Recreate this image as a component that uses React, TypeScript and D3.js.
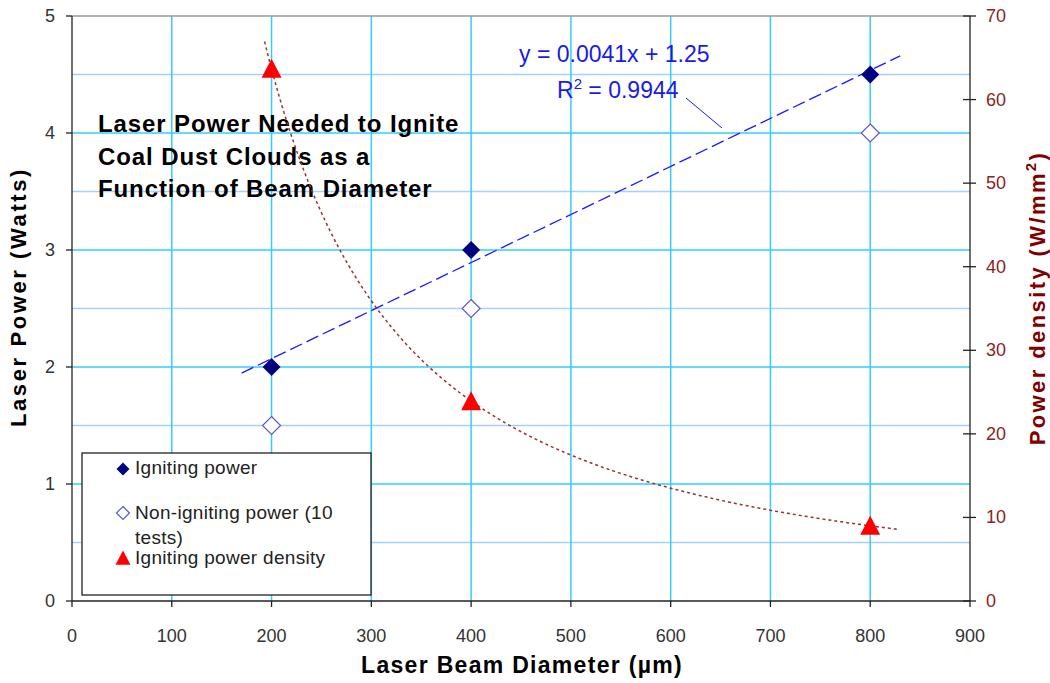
import React from 'react';
import * as d3 from 'd3';

// beam diameter (µm) and measured values
const diameters = [200, 400, 800];
const ignitingPower = [2, 3, 4.5];
const nonIgnitingPower = [1.5, 2.5, 4];
const powerDensity = [63.7, 23.9, 9.0];

const xTicks = [0, 100, 200, 300, 400, 500, 600, 700, 800, 900];
const leftTicks = [0, 1, 2, 3, 4, 5];
const leftMinor = [0.5, 1.5, 2.5, 3.5, 4.5];
const rightTicks = [0, 10, 20, 30, 40, 50, 60, 70];

const titleLines = ['Laser Power Needed to Ignite', 'Coal Dust Clouds as a', 'Function of Beam Diameter'];
const legendItems = ['Igniting power', 'Non-igniting power (10', 'Igniting power density'];

const W = 1050;
const H = 683;
const left = 72;
const right = 970;
const top = 16;
const bottom = 601;
const FONT = 'Liberation Sans, Arial, sans-serif';

const x = d3.scaleLinear().domain([0, 900]).range([left, right]);
const yL = d3.scaleLinear().domain([0, 5]).range([bottom, top]);
const yR = d3.scaleLinear().domain([0, 70]).range([bottom, top]);

// least squares trend line for igniting power
function linearFit(xs: number[], ys: number[]) {
  const mx = d3.mean(xs)!;
  const my = d3.mean(ys)!;
  let sxy = 0, sxx = 0;
  xs.forEach((v, i) => { sxy += (v - mx) * (ys[i] - my); sxx += (v - mx) ** 2; });
  const m = sxy / sxx;
  return { m, b: my - m * mx };
}

// power law trend (fit in log space) for power density
function powerFit(xs: number[], ys: number[]) {
  const f = linearFit(xs.map(Math.log), ys.map(Math.log));
  return { a: Math.exp(f.b), k: f.m };
}

const lin = linearFit(diameters, ignitingPower);
const pow = powerFit(diameters, powerDensity);

const linLine = d3.line<number>().x(d => x(d)).y(d => yL(lin.m * d + lin.b));
const powLine = d3.line<number>().x(d => x(d)).y(d => yR(pow.a * Math.pow(d, pow.k)));
const powXs = d3.range(193, 831, 2);

// excel style square diamond and triangle, size = half width
const diamondType = {
  draw(ctx: any, r: number) {
    ctx.moveTo(0, -r); ctx.lineTo(r, 0); ctx.lineTo(0, r); ctx.lineTo(-r, 0); ctx.closePath();
  }
};
const triangleType = {
  draw(ctx: any, r: number) {
    ctx.moveTo(0, -r); ctx.lineTo(r, r * 0.9); ctx.lineTo(-r, r * 0.9); ctx.closePath();
  }
};
const diamond = d3.symbol().type(diamondType as any).size(9);
const legendDiamond = d3.symbol().type(diamondType as any).size(6.5);
const triangle = d3.symbol().type(triangleType as any).size(10);
const legendTriangle = d3.symbol().type(triangleType as any).size(7.5);

const tickStyle = { fontSize: 18, fill: '#333' };
const legendText = { fontSize: 19, fill: '#222', letterSpacing: 0.3 };

export default function App() {
  return (
    <div style={{ position: 'absolute', left: 0, top: 0 }}>
      <svg width={W} height={H} style={{ display: 'block', background: '#fff' }} fontFamily={FONT}>
        {/* grid */}
        {leftMinor.map(v => (
          <line key={'mn' + v} x1={left} x2={right} y1={yL(v)} y2={yL(v)} stroke="#a6d0ff" strokeWidth={1.5} />
        ))}
        {leftTicks.filter(v => v > 0 && v < 5).map(v => (
          <line key={'mj' + v} x1={left} x2={right} y1={yL(v)} y2={yL(v)} stroke="#33ccff" strokeWidth={1.5} />
        ))}
        {xTicks.filter(v => v > 0 && v < 900).map(v => (
          <line key={'vx' + v} x1={x(v)} x2={x(v)} y1={top} y2={bottom} stroke="#33ccff" strokeWidth={1.5} />
        ))}
        <line x1={left} x2={right} y1={top} y2={top} stroke="#999" strokeWidth={1.5} />

        {/* axes */}
        <line x1={left} x2={left} y1={top} y2={bottom} stroke="#222" strokeWidth={1.3} />
        <line x1={left} x2={right} y1={bottom} y2={bottom} stroke="#222" strokeWidth={1.3} />
        <line x1={right} x2={right} y1={top} y2={bottom} stroke="#222" strokeWidth={1.3} />
        {leftTicks.map(v => (
          <g key={'lt' + v}>
            <line x1={left - 6} x2={left} y1={yL(v)} y2={yL(v)} stroke="#222" strokeWidth={1.3} />
            <text x={55} y={yL(v) + 6} textAnchor="end" {...tickStyle}>{v}</text>
          </g>
        ))}
        {xTicks.map(v => (
          <g key={'xt' + v}>
            <line x1={x(v)} x2={x(v)} y1={bottom} y2={bottom + 6} stroke="#222" strokeWidth={1.3} />
            <text x={x(v)} y={642} textAnchor="middle" {...tickStyle}>{v}</text>
          </g>
        ))}
        {rightTicks.map(v => (
          <g key={'rt' + v}>
            <line x1={right - 7} x2={right + 6} y1={yR(v)} y2={yR(v)} stroke="#222" strokeWidth={1.3} />
            <text x={986} y={yR(v) + 6} fontSize={18} fill="#8b2323">{v}</text>
          </g>
        ))}

        {/* axis titles */}
        <text transform="translate(26,297) rotate(-90)" textAnchor="middle"
          fontSize={22} fontWeight="bold" fill="#000" letterSpacing={2.6}>Laser Power (Watts)</text>
        <text x={522} y={673} textAnchor="middle" fontSize={23} fontWeight="bold" fill="#000" letterSpacing={1.3}>
          Laser Beam Diameter (µm)
        </text>
        <text transform="translate(1045,298) rotate(-90)" textAnchor="middle"
          fontSize={22} fontWeight="bold" fill="#800000" letterSpacing={2.4}>
          Power density (W/mm<tspan dy={-9} fontSize={15}>2</tspan><tspan dy={9}>)</tspan>
        </text>

        {/* chart title inside plot */}
        {titleLines.map((t, i) => (
          <text key={t} x={98} y={132 + i * 32.5} fontSize={24} fontWeight="bold" fill="#000" letterSpacing={0.9}>{t}</text>
        ))}

        {/* trend lines */}
        <path d={linLine([170, 830])!} fill="none" stroke="#1a1aff" strokeWidth={1.3} strokeDasharray="13,5" />
        <path d={powLine(powXs)!} fill="none" stroke="#993333" strokeWidth={1.5} strokeDasharray="3,3" />

        {/* equation label */}
        <text x={519} y={62} fontSize={23} fill="#1a1ae6">y = 0.0041x + 1.25</text>
        <text x={557} y={98} fontSize={23} fill="#1a1ae6">
          R<tspan dy={-9} fontSize={15}>2</tspan><tspan dy={9}> = 0.9944</tspan>
        </text>
        <line x1={686} y1={98} x2={722} y2={128} stroke="#1a1ae6" strokeWidth={1} />

        {/* markers */}
        {diameters.map((d, i) => (
          <path key={'ni' + d} d={diamond()!} transform={`translate(${x(d)},${yL(nonIgnitingPower[i])})`}
            fill="#fff" stroke="#5a5ac8" strokeWidth={1.2} />
        ))}
        {diameters.map((d, i) => (
          <path key={'ig' + d} d={diamond()!} transform={`translate(${x(d)},${yL(ignitingPower[i])})`}
            fill="#000080" />
        ))}
        {diameters.map((d, i) => (
          <path key={'pd' + d} d={triangle()!} transform={`translate(${x(d)},${yR(powerDensity[i])})`}
            fill="#ff0000" />
        ))}

        {/* legend */}
        <rect x={82} y={453} width={289} height={142} fill="#fff" stroke="#222" strokeWidth={1.3} />
        <path d={legendDiamond()!} transform="translate(123,469)" fill="#000080" />
        <text x={135} y={474} {...legendText}>{legendItems[0]}</text>
        <path d={legendDiamond()!} transform="translate(123,513)" fill="#fff" stroke="#5a5ac8" strokeWidth={1.2} />
        <text x={135} y={519} {...legendText}>{legendItems[1]}</text>
        <text x={135} y={544} {...legendText}>tests)</text>
        <path d={legendTriangle()!} transform="translate(123,558)" fill="#ff0000" />
        <text x={135} y={564} {...legendText}>{legendItems[2]}</text>
      </svg>
    </div>
  );
}
